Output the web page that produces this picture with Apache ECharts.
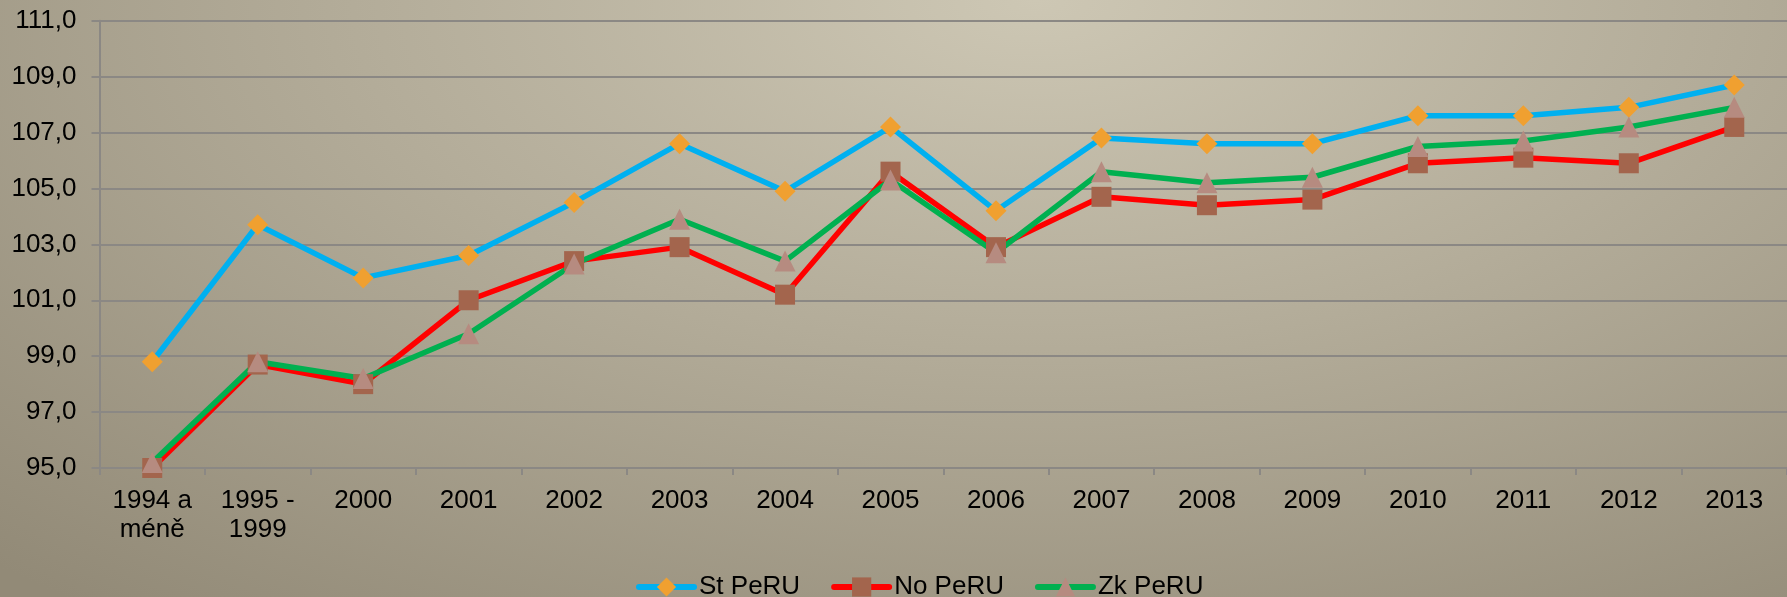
<!DOCTYPE html>
<html>
<head>
<meta charset="utf-8">
<script src="https://cdn.jsdelivr.net/npm/echarts@6/dist/echarts.min.js"></script>
<style>
  html, body { margin: 0; padding: 0; }
  body {
    width: 1787px; height: 597px; overflow: hidden;
    background: radial-gradient(ellipse 85% 130% at 58% 0%, #cdc7b4 0%, #b3ac99 45%, #928a77 100%);
  }
  #main { width: 1787px; height: 597px; }
</style>
</head>
<body>
<div id="main"></div>
<script>
const categories = ['1994 a\nméně', '1995 -\n1999', '2000', '2001', '2002', '2003', '2004', '2005',
  '2006', '2007', '2008', '2009', '2010', '2011', '2012', '2013']

const stPeRU = [98.8, 103.7, 101.8, 102.6, 104.5, 106.6, 104.9, 107.2, 104.2, 106.8, 106.6, 106.6, 107.6, 107.6, 107.9, 108.7]
const noPeRU = [95.0, 98.7, 98.0, 101.0, 102.4, 102.9, 101.2, 105.6, 102.9, 104.7, 104.4, 104.6, 105.9, 106.1, 105.9, 107.2]
const zkPeRU = [95.2, 98.8, 98.2, 99.8, 102.3, 103.9, 102.4, 105.3, 102.7, 105.6, 105.2, 105.4, 106.5, 106.7, 107.2, 107.9]

const font = '"Liberation Sans", Arial, sans-serif'
const gridColor = '#8b8884'

const myChart = echarts.init(document.getElementById('main'))

function lineSeries(name, data, lineColor, symbol, symbolColor, size) {
    return {
        name: name,
        type: 'line',
        data: data,
        symbol: symbol,
        symbolSize: size,
        lineStyle: { color: lineColor, width: 5.5 },
        itemStyle: { color: symbolColor, borderWidth: 0 },
        emphasis: { disabled: true },
        animation: false
    }
}

myChart.setOption({
    backgroundColor: 'transparent',
    grid: { left: 99.5, right: -19, top: 20.7, bottom: 129 },
    legend: {
        left: 636,
        top: 574,
        padding: 0,
        itemWidth: 55,
        itemHeight: 24,
        itemGap: 31,
        lineStyle: { width: 6, cap: 'round' },
        textStyle: { fontFamily: font, fontSize: 26, color: '#000' },
        data: ['St PeRU', 'No PeRU', 'Zk PeRU']
    },
    xAxis: {
        type: 'category',
        data: categories,
        boundaryGap: true,
        axisLine: { lineStyle: { color: gridColor, width: 2 } },
        axisTick: { show: true, length: 7, lineStyle: { color: gridColor, width: 2 } },
        axisLabel: {
            interval: 0,
            margin: 18,
            fontFamily: font,
            fontSize: 26,
            lineHeight: 29,
            color: '#000'
        }
    },
    yAxis: {
        type: 'value',
        min: 95,
        max: 111,
        interval: 2,
        axisLine: { show: true, lineStyle: { color: gridColor, width: 2 } },
        axisTick: { show: true, length: 8, lineStyle: { color: gridColor, width: 2 } },
        splitLine: { lineStyle: { color: gridColor, width: 2 } },
        axisLabel: {
            margin: 23,
            fontFamily: font,
            fontSize: 26,
            color: '#000',
            formatter: v => v.toFixed(1).replace('.', ',')
        }
    },
    series: [
        lineSeries('St PeRU', stPeRU, '#00b0f0', 'diamond', '#f0a030', 21),
        lineSeries('No PeRU', noPeRU, '#ff0000', 'rect', '#a3654d', 20),
        lineSeries('Zk PeRU', zkPeRU, '#00b050', 'triangle', '#b68b80', 21)
    ]
})
</script>
</body>
</html>
